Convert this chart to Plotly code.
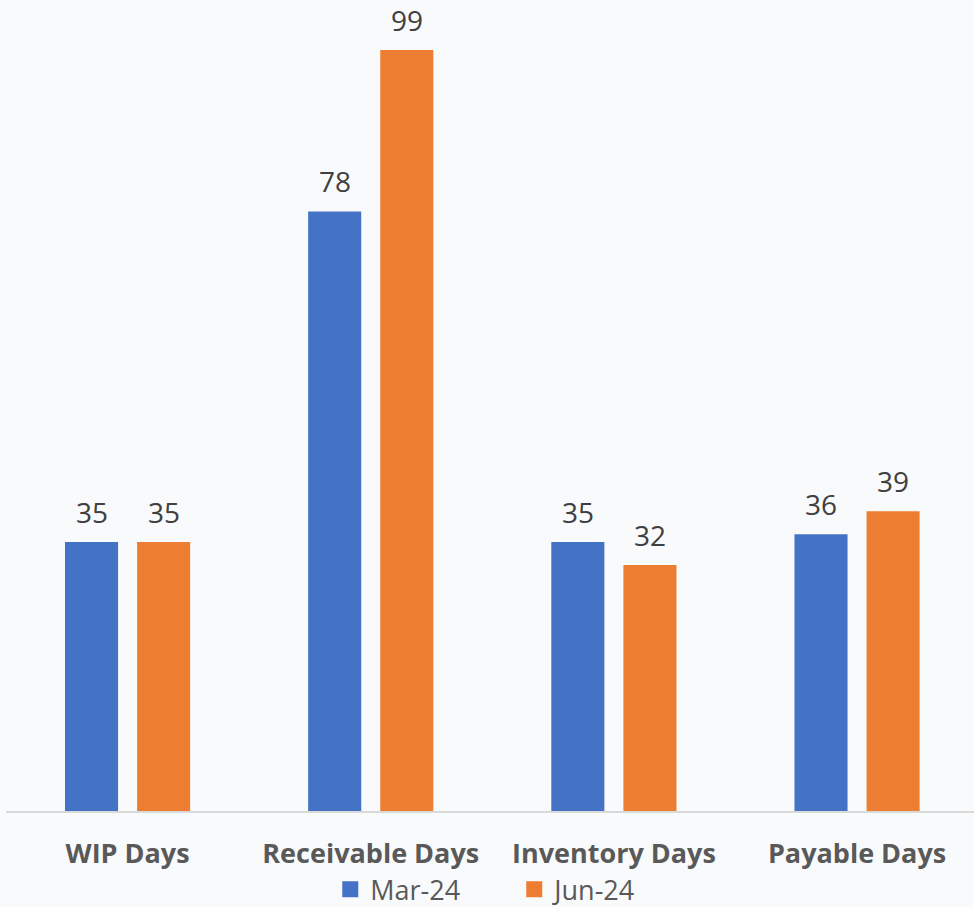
import plotly.graph_objects as go

categories = ["WIP Days", "Receivable Days", "Inventory Days", "Payable Days"]
mar24 = [35, 78, 35, 36]
jun24 = [35, 99, 32, 39]
series_names = ["Mar-24", "Jun-24"]

BLUE = "#4472C4"
ORANGE = "#ED7D31"
BG = "#F9FAFB"

fig = go.Figure()
fig.add_trace(go.Bar(x=categories, y=mar24, name=series_names[0], marker_color=BLUE,
                     marker_line_width=0, showlegend=False))
fig.add_trace(go.Bar(x=categories, y=jun24, name=series_names[1], marker_color=ORANGE,
                     marker_line_width=0, showlegend=False))

# legend entries with larger square swatches
for name, col in zip(series_names, (BLUE, ORANGE)):
    fig.add_trace(go.Scatter(x=[None], y=[None], mode="markers", name=name,
                             marker=dict(symbol="square", size=17, color=col)))

# value labels above bars
for vals, shift in ((mar24, -36), (jun24, 36)):
    for c, v in zip(categories, vals):
        fig.add_annotation(x=c, y=v, text=str(v), showarrow=False, xshift=shift,
                           yanchor="bottom", yshift=10, borderpad=0,
                           font=dict(family="Open Sans", size=28, color="#404040"))

fig.update_layout(
    width=974, height=907,
    margin=dict(l=6, r=0, t=0, b=96, autoexpand=False),
    paper_bgcolor=BG, plot_bgcolor=BG,
    barmode="group", bargap=0.407, bargroupgap=0.264,
    showlegend=True,
    legend=dict(orientation="h", x=0.528, xanchor="center", xref="container",
                y=0.019, yanchor="middle", yref="container",
                font=dict(family="Open Sans", size=27, color="#595959"),
                bgcolor="rgba(0,0,0,0)", entrywidth=139, traceorder="normal"),
    xaxis=dict(range=[-0.5, 3.481], showline=True, linecolor="#D9D9D9", linewidth=2,
               ticks="", showgrid=False, ticklabelstandoff=18,
               tickfont=dict(family="Open Sans", size=27, color="#595959", weight="bold")),
    yaxis=dict(range=[0, 105.5], visible=False, showgrid=False, zeroline=False),
)

fig.write_html("out.html")
